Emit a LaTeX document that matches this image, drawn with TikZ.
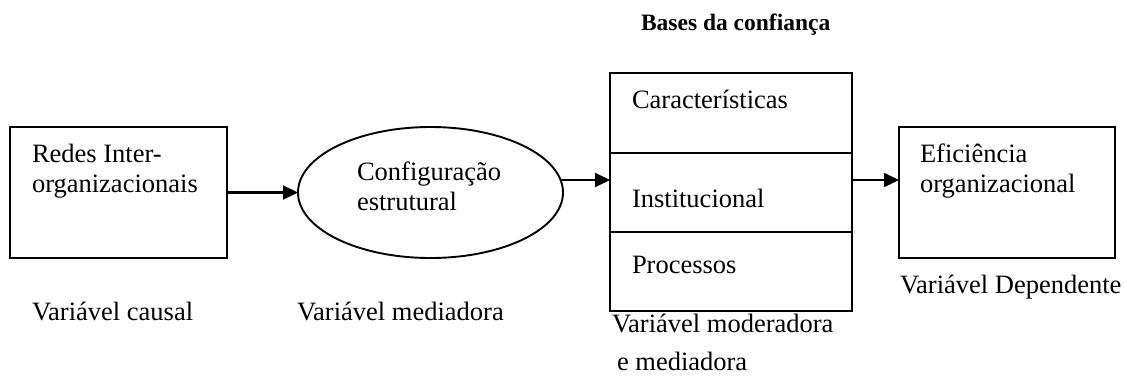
\documentclass[tikz,border=0pt]{standalone}
\usepackage{fontspec}
\setmainfont{Liberation Serif}
\usetikzlibrary{arrows.meta,shapes.geometric}
\begin{document}
\begin{tikzpicture}[x=1pt,y=-1pt,
  box/.style={draw,line width=2.2pt,rectangle,inner sep=0pt,outer sep=0pt},
  oval/.style={draw,line width=1.9pt,ellipse,inner sep=0pt,outer sep=0pt},
  txt/.style={inner sep=0pt,outer sep=0pt,anchor=base west,font=\fontsize{26.5}{30}\selectfont},
  ttl/.style={inner sep=0pt,outer sep=0pt,anchor=base west,font=\fontsize{23.5}{28}\selectfont\bfseries},
  arr/.style={line width=2.2pt,-{Triangle[length=15pt,width=14pt]}}]
\useasboundingbox (0,0) rectangle (1124,376);
% boxes
\node[box,minimum width=217pt,minimum height=131pt] (b1) at (118.5,192.5) {};
\node[oval,minimum width=265pt,minimum height=131pt] (ell) at (430.5,192.5) {};
\node[box,minimum width=242pt,minimum height=80pt] (top) at (731,113) {};
\node[box,minimum width=242pt,minimum height=79pt] (mid) at (731,192.5) {};
\node[box,minimum width=242pt,minimum height=79pt] (bot) at (731,271.5) {};
\node[box,minimum width=216pt,minimum height=131pt] (b4) at (1007,192.5) {};
% texts
\node[ttl] (title) at (641,30) {Bases da confiança};
\node[txt] (t1a) at (32,162) {Redes Inter-};
\node[txt] (t1b) at (32,192) {organizacionais};
\node[txt] (t2a) at (357,180) {Configuração};
\node[txt] (t2b) at (357,210) {estrutural};
\node[txt] (t3a) at (632,108) {Características};
\node[txt] (t3b) at (632,207) {Institucional};
\node[txt] (t3c) at (632,273) {Processos};
\node[txt] (t4a) at (920,162) {Eficiência};
\node[txt] (t4b) at (920,192) {organizacional};
\node[txt] (l1) at (32,320) {Variável causal};
\node[txt] (l2) at (297,320) {Variável mediadora};
\node[txt] (l3a) at (612,332) {Variável moderadora};
\node[txt] (l3b) at (617,370) {e mediadora};
\node[txt] (l4) at (900,293) {Variável Dependente};
% connectors
\draw[arr] (b1.east) -- (ell.west);
\coordinate (a2s) at ([xshift=130.1pt,yshift=12.5pt]ell.center);
\draw[arr] (a2s) -- (a2s -| mid.west);
\coordinate (a3e) at ([yshift=12.5pt]b4.west);
\draw[arr] (a3e -| mid.east) -- (a3e);
\end{tikzpicture}
\end{document}
